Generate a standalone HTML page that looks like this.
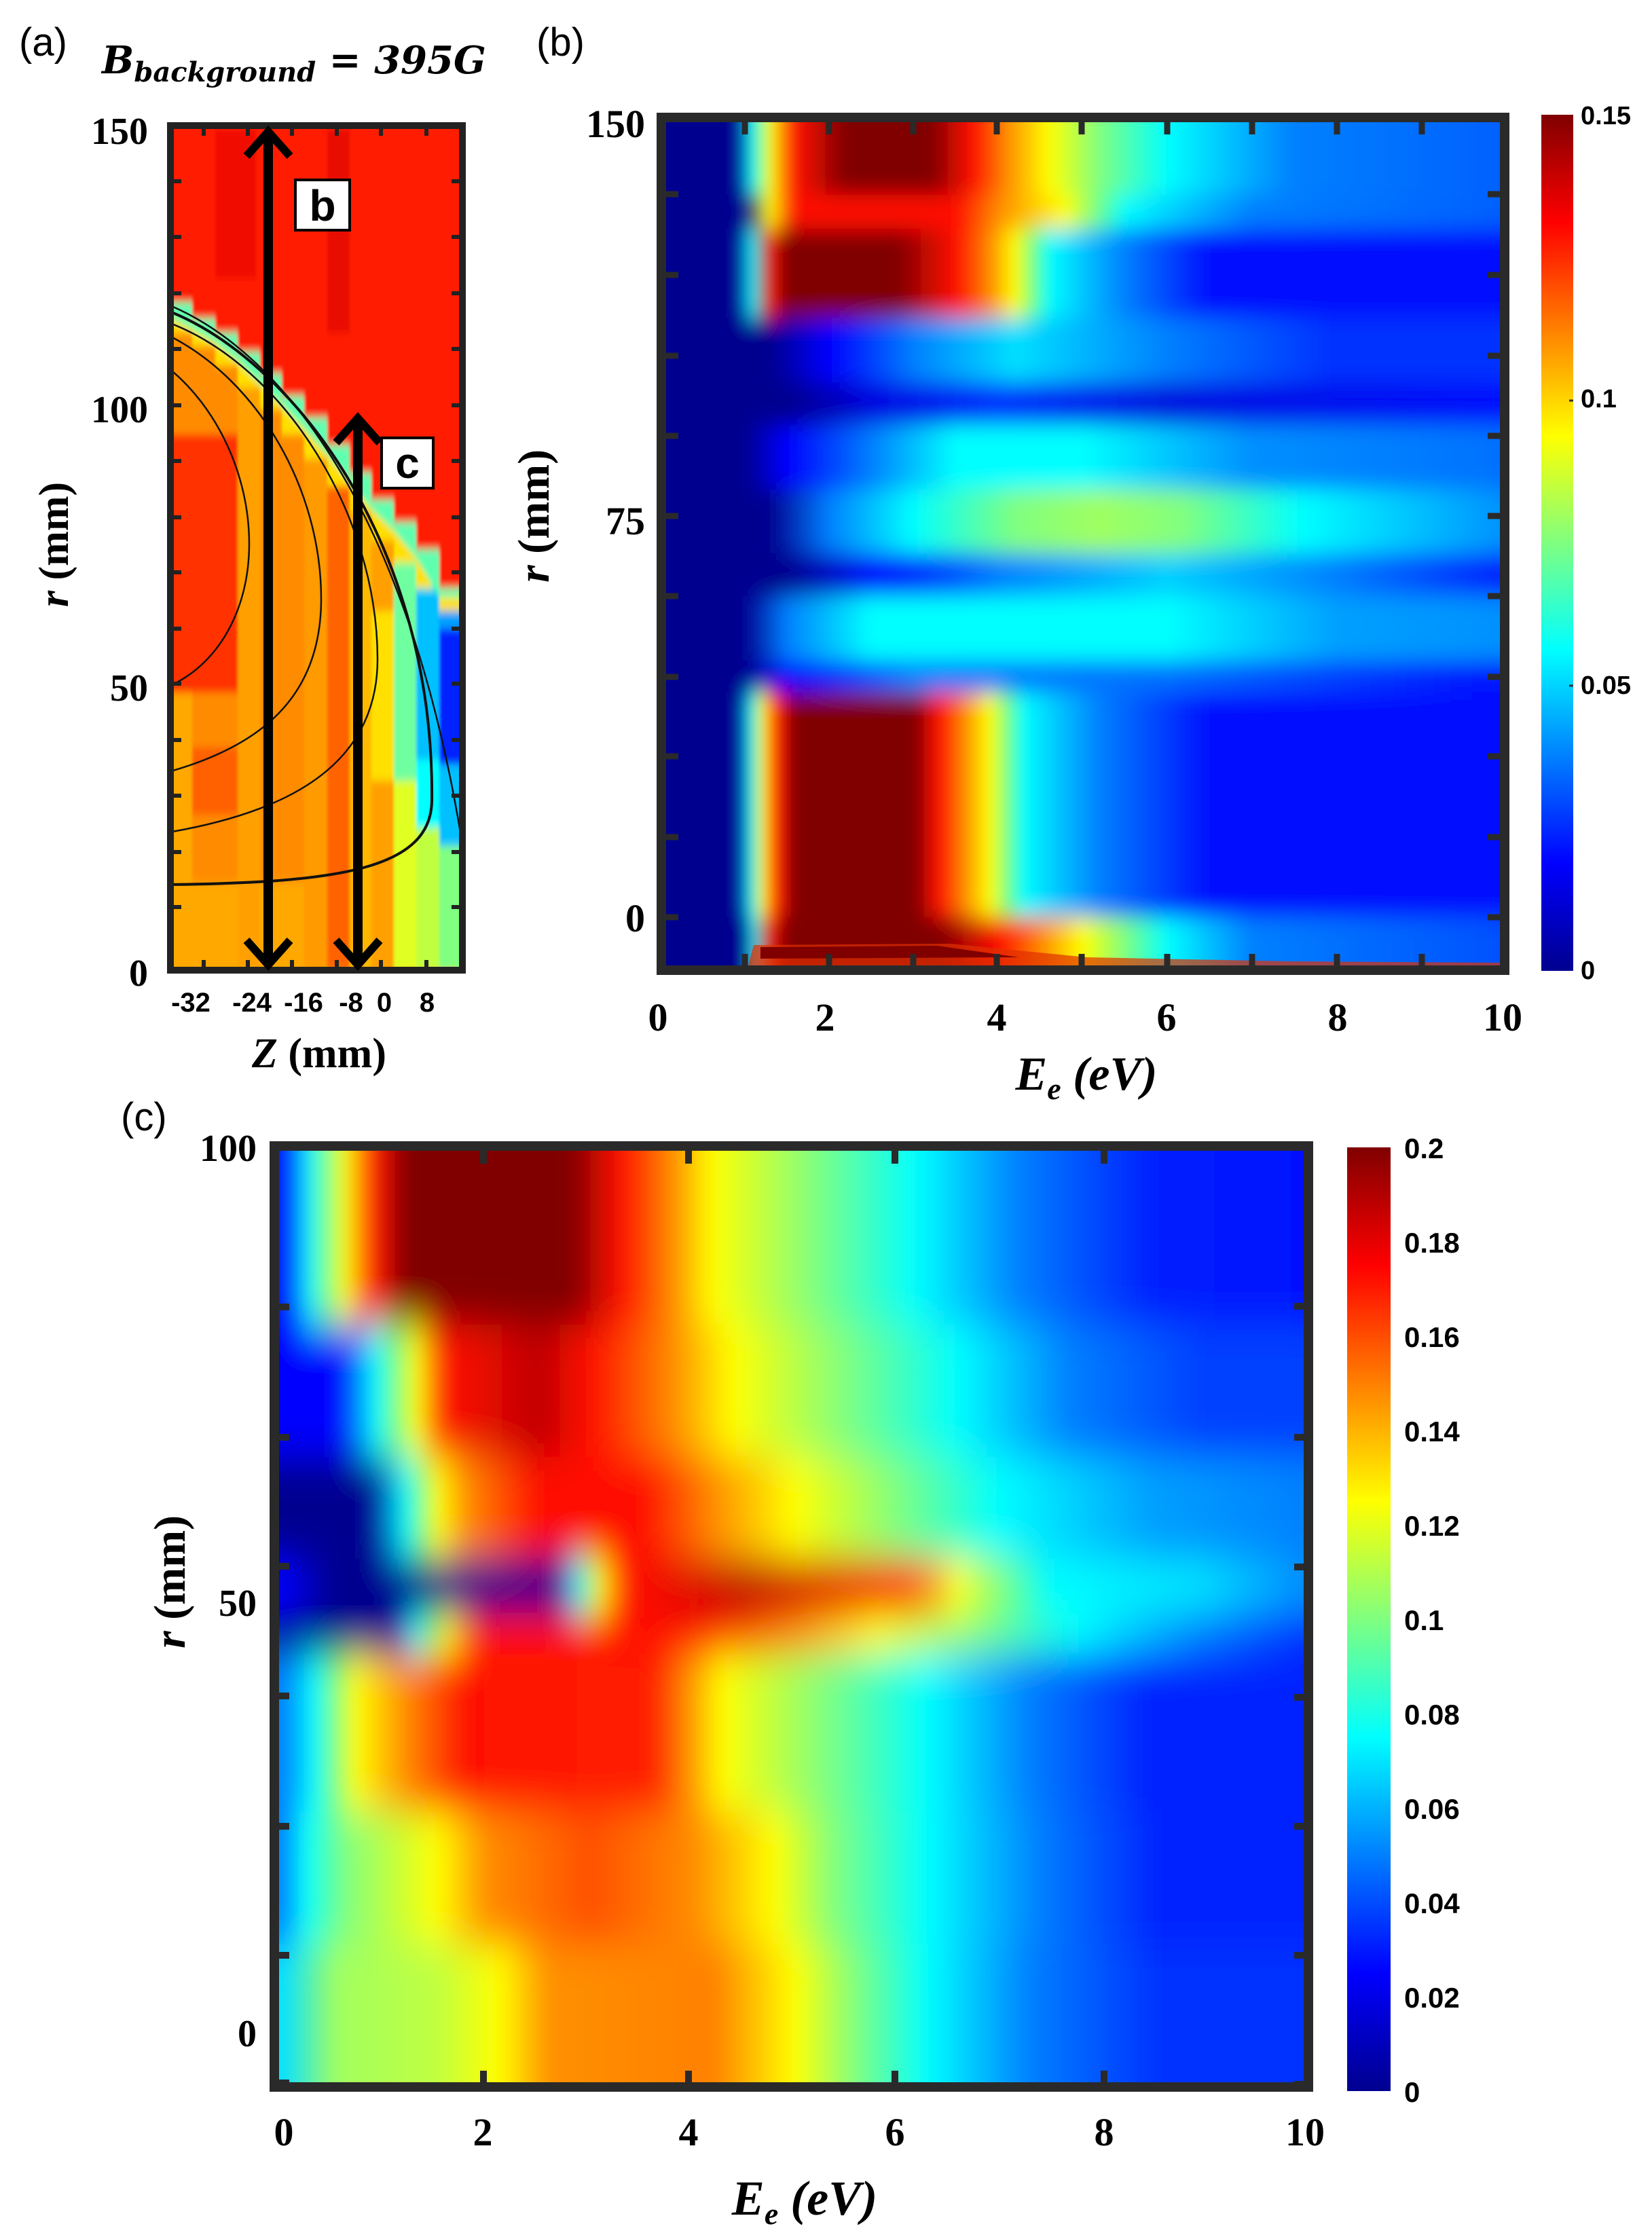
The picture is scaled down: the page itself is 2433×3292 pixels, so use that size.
<!DOCTYPE html>
<html><head><meta charset="utf-8"><style>html,body{margin:0;padding:0;background:#fff}svg{display:block}</style></head>
<body>
<svg xmlns="http://www.w3.org/2000/svg" width="2433" height="3292" viewBox="0 0 2433 3292">
<defs>
<filter id="fb" x="-5%" y="-5%" width="110%" height="110%"><feGaussianBlur stdDeviation="10 16"/></filter>
<filter id="fc" x="-5%" y="-5%" width="110%" height="110%"><feGaussianBlur stdDeviation="14 30"/></filter>
<filter id="fa" x="-5%" y="-5%" width="110%" height="110%"><feGaussianBlur stdDeviation="2 6"/></filter>
<clipPath id="cb"><rect x="977" y="176" width="1236" height="1250"/></clipPath>
<clipPath id="cc"><rect x="408" y="1692" width="1516" height="1380"/></clipPath>
<clipPath id="ca"><rect x="252" y="186" width="428" height="1242"/></clipPath>
<linearGradient id="jet" x1="0" y1="1" x2="0" y2="0">
<stop offset="0" stop-color="#00008f"/><stop offset=".125" stop-color="#0000ff"/><stop offset=".375" stop-color="#00ffff"/><stop offset=".625" stop-color="#ffff00"/><stop offset=".875" stop-color="#ff0000"/><stop offset="1" stop-color="#800000"/>
</linearGradient>
<linearGradient id="b1" gradientUnits="userSpaceOnUse" x1="972" y1="0" x2="2217" y2="0">
<stop offset=".0" stop-color="#00008f"/><stop offset=".09" stop-color="#00008f"/><stop offset=".11" stop-color="#00ffff"/><stop offset=".13" stop-color="#ffff00"/><stop offset=".16" stop-color="#ff1000"/><stop offset=".22" stop-color="#800000"/><stop offset=".32" stop-color="#800000"/><stop offset=".37" stop-color="#ff1000"/><stop offset=".41" stop-color="#ff8c00"/><stop offset=".46" stop-color="#ffff00"/><stop offset=".52" stop-color="#80ff80"/><stop offset=".6" stop-color="#00ffff"/><stop offset=".75" stop-color="#0080ff"/><stop offset="1" stop-color="#0060ff"/></linearGradient>
<linearGradient id="b2" gradientUnits="userSpaceOnUse" x1="972" y1="0" x2="2217" y2="0">
<stop offset="0" stop-color="#00008f"/><stop offset=".1" stop-color="#00008f"/><stop offset=".13" stop-color="#ffff00"/><stop offset=".16" stop-color="#ff1000"/><stop offset=".35" stop-color="#ff1000"/><stop offset=".4" stop-color="#ff8c00"/><stop offset=".48" stop-color="#ffff00"/><stop offset=".55" stop-color="#00ffff"/><stop offset=".7" stop-color="#0080ff"/><stop offset="1" stop-color="#0060ff"/></linearGradient>
<linearGradient id="b3" gradientUnits="userSpaceOnUse" x1="972" y1="0" x2="2217" y2="0">
<stop offset="0" stop-color="#00008f"/><stop offset=".09" stop-color="#00008f"/><stop offset=".11" stop-color="#00ffff"/><stop offset=".13" stop-color="#ff1000"/><stop offset=".15" stop-color="#800000"/><stop offset=".28" stop-color="#800000"/><stop offset=".35" stop-color="#ff1000"/><stop offset=".39" stop-color="#ff8c00"/><stop offset=".42" stop-color="#ffff00"/><stop offset=".46" stop-color="#00ffff"/><stop offset=".55" stop-color="#0080ff"/><stop offset=".65" stop-color="#0010ff"/><stop offset="1" stop-color="#0010ff"/></linearGradient>
<linearGradient id="b4" gradientUnits="userSpaceOnUse" x1="972" y1="0" x2="2217" y2="0">
<stop offset="0" stop-color="#00008f"/><stop offset=".13" stop-color="#00008f"/><stop offset=".2" stop-color="#0000ff"/><stop offset=".3" stop-color="#0080ff"/><stop offset=".42" stop-color="#00e0ff"/><stop offset=".6" stop-color="#0080ff"/><stop offset=".8" stop-color="#0030ff"/><stop offset="1" stop-color="#0030ff"/></linearGradient>
<linearGradient id="b5" gradientUnits="userSpaceOnUse" x1="972" y1="0" x2="2217" y2="0">
<stop offset="0" stop-color="#00008f"/><stop offset=".15" stop-color="#00008f"/><stop offset=".25" stop-color="#0000e0"/><stop offset=".4" stop-color="#0030ff"/><stop offset=".6" stop-color="#0010e0"/><stop offset="1" stop-color="#0010ff"/></linearGradient>
<linearGradient id="b6" gradientUnits="userSpaceOnUse" x1="972" y1="0" x2="2217" y2="0">
<stop offset="0" stop-color="#00008f"/><stop offset=".1" stop-color="#00008f"/><stop offset=".15" stop-color="#0000ff"/><stop offset=".25" stop-color="#0080ff"/><stop offset=".35" stop-color="#00ffff"/><stop offset=".5" stop-color="#00ffff"/><stop offset=".7" stop-color="#0090ff"/><stop offset="1" stop-color="#0070ff"/></linearGradient>
<linearGradient id="b7" gradientUnits="userSpaceOnUse" x1="972" y1="0" x2="2217" y2="0">
<stop offset="0" stop-color="#00008f"/><stop offset=".13" stop-color="#00008f"/><stop offset=".2" stop-color="#0080ff"/><stop offset=".3" stop-color="#00ffff"/><stop offset=".42" stop-color="#80ff80"/><stop offset=".52" stop-color="#a0ff60"/><stop offset=".62" stop-color="#80ff80"/><stop offset=".76" stop-color="#00ffff"/><stop offset="1" stop-color="#0090ff"/></linearGradient>
<linearGradient id="b8" gradientUnits="userSpaceOnUse" x1="972" y1="0" x2="2217" y2="0">
<stop offset="0" stop-color="#00008f"/><stop offset=".15" stop-color="#00008f"/><stop offset=".25" stop-color="#0000ff"/><stop offset=".4" stop-color="#0080ff"/><stop offset=".6" stop-color="#00d0ff"/><stop offset=".8" stop-color="#0080ff"/><stop offset="1" stop-color="#0020ff"/></linearGradient>
<linearGradient id="b9" gradientUnits="userSpaceOnUse" x1="972" y1="0" x2="2217" y2="0">
<stop offset="0" stop-color="#00008f"/><stop offset=".1" stop-color="#00008f"/><stop offset=".15" stop-color="#0080ff"/><stop offset=".25" stop-color="#00ffff"/><stop offset=".6" stop-color="#00ffff"/><stop offset=".8" stop-color="#00a0ff"/><stop offset="1" stop-color="#0090ff"/></linearGradient>
<linearGradient id="b10" gradientUnits="userSpaceOnUse" x1="972" y1="0" x2="2217" y2="0">
<stop offset="0" stop-color="#00008f"/><stop offset=".1" stop-color="#00008f"/><stop offset=".15" stop-color="#0000ff"/><stop offset=".3" stop-color="#0080ff"/><stop offset=".6" stop-color="#0070ff"/><stop offset="1" stop-color="#0010ff"/></linearGradient>
<linearGradient id="b11" gradientUnits="userSpaceOnUse" x1="972" y1="0" x2="2217" y2="0">
<stop offset="0" stop-color="#00008f"/><stop offset=".09" stop-color="#00008f"/><stop offset=".11" stop-color="#00ffff"/><stop offset=".12" stop-color="#ffff00"/><stop offset=".14" stop-color="#ff1000"/><stop offset=".16" stop-color="#800000"/><stop offset=".3" stop-color="#800000"/><stop offset=".33" stop-color="#ff1000"/><stop offset=".36" stop-color="#ff8c00"/><stop offset=".39" stop-color="#ffff00"/><stop offset=".43" stop-color="#00ffff"/><stop offset=".52" stop-color="#0080ff"/><stop offset=".65" stop-color="#0010ff"/><stop offset="1" stop-color="#0010ff"/></linearGradient>
<linearGradient id="b12" gradientUnits="userSpaceOnUse" x1="972" y1="0" x2="2217" y2="0">
<stop offset="0" stop-color="#00008f"/><stop offset=".1" stop-color="#00008f"/><stop offset=".11" stop-color="#00ffff"/><stop offset=".13" stop-color="#ff1000"/><stop offset=".15" stop-color="#800000"/><stop offset=".33" stop-color="#800000"/><stop offset=".4" stop-color="#ff1000"/><stop offset=".5" stop-color="#ffff00"/><stop offset=".6" stop-color="#00ffff"/><stop offset=".7" stop-color="#0080ff"/><stop offset="1" stop-color="#0050ff"/></linearGradient>
<linearGradient id="c1" gradientUnits="userSpaceOnUse" x1="418" y1="0" x2="1922" y2="0">
<stop offset="0" stop-color="#0000ff"/><stop offset=".025" stop-color="#00ffff"/><stop offset=".06" stop-color="#ffff00"/><stop offset=".09" stop-color="#ff1000"/><stop offset=".12" stop-color="#800000"/><stop offset=".28" stop-color="#800000"/><stop offset=".33" stop-color="#ff1000"/><stop offset=".38" stop-color="#ff8c00"/><stop offset=".42" stop-color="#ffff00"/><stop offset=".52" stop-color="#80ff80"/><stop offset=".62" stop-color="#00ffff"/><stop offset=".72" stop-color="#0080ff"/><stop offset=".85" stop-color="#0020ff"/><stop offset="1" stop-color="#0010ff"/></linearGradient>
<linearGradient id="c2" gradientUnits="userSpaceOnUse" x1="418" y1="0" x2="1922" y2="0">
<stop offset="0" stop-color="#0000ff"/><stop offset=".05" stop-color="#0000ff"/><stop offset=".09" stop-color="#00ffff"/><stop offset=".13" stop-color="#ffff00"/><stop offset=".16" stop-color="#ff1000"/><stop offset=".25" stop-color="#c00000"/><stop offset=".3" stop-color="#ff1000"/><stop offset=".38" stop-color="#ff8c00"/><stop offset=".44" stop-color="#ffff00"/><stop offset=".55" stop-color="#80ff80"/><stop offset=".66" stop-color="#00ffff"/><stop offset=".77" stop-color="#0080ff"/><stop offset=".9" stop-color="#0040ff"/><stop offset="1" stop-color="#0040ff"/></linearGradient>
<linearGradient id="c3" gradientUnits="userSpaceOnUse" x1="418" y1="0" x2="1922" y2="0">
<stop offset="0" stop-color="#00008f"/><stop offset=".08" stop-color="#00008f"/><stop offset=".12" stop-color="#00ffff"/><stop offset=".15" stop-color="#ffff00"/><stop offset=".18" stop-color="#ff8c00"/><stop offset=".25" stop-color="#ff1000"/><stop offset=".35" stop-color="#ff1000"/><stop offset=".42" stop-color="#ff8c00"/><stop offset=".5" stop-color="#ffff00"/><stop offset=".6" stop-color="#80ff80"/><stop offset=".7" stop-color="#00ffff"/><stop offset=".85" stop-color="#00a0ff"/><stop offset="1" stop-color="#0080ff"/></linearGradient>
<linearGradient id="c4" gradientUnits="userSpaceOnUse" x1="418" y1="0" x2="1922" y2="0">
<stop offset="0" stop-color="#0000ff"/><stop offset=".05" stop-color="#00008f"/><stop offset=".26" stop-color="#00008f"/><stop offset=".29" stop-color="#00ffff"/><stop offset=".31" stop-color="#ffff00"/><stop offset=".34" stop-color="#ff1000"/><stop offset=".45" stop-color="#c00000"/><stop offset=".6" stop-color="#ff1000"/><stop offset=".66" stop-color="#ffff00"/><stop offset=".75" stop-color="#00ffff"/><stop offset=".9" stop-color="#00e0ff"/><stop offset="1" stop-color="#0090ff"/></linearGradient>
<linearGradient id="c5" gradientUnits="userSpaceOnUse" x1="418" y1="0" x2="1922" y2="0">
<stop offset="0" stop-color="#00008f"/><stop offset=".1" stop-color="#00008f"/><stop offset=".13" stop-color="#00ffff"/><stop offset=".16" stop-color="#ffff00"/><stop offset=".2" stop-color="#ff1000"/><stop offset=".4" stop-color="#ff1000"/><stop offset=".5" stop-color="#ff8c00"/><stop offset=".58" stop-color="#ffff00"/><stop offset=".68" stop-color="#80ff80"/><stop offset=".78" stop-color="#00ffff"/><stop offset=".9" stop-color="#0080ff"/><stop offset="1" stop-color="#0030ff"/></linearGradient>
<linearGradient id="c6" gradientUnits="userSpaceOnUse" x1="418" y1="0" x2="1922" y2="0">
<stop offset="0" stop-color="#0080ff"/><stop offset=".03" stop-color="#00ffff"/><stop offset=".07" stop-color="#ffff00"/><stop offset=".12" stop-color="#ff8c00"/><stop offset=".18" stop-color="#ff1000"/><stop offset=".36" stop-color="#ff2000"/><stop offset=".43" stop-color="#ffff00"/><stop offset=".53" stop-color="#80ff80"/><stop offset=".63" stop-color="#00ffff"/><stop offset=".73" stop-color="#0080ff"/><stop offset=".85" stop-color="#0020ff"/><stop offset="1" stop-color="#0020ff"/></linearGradient>
<linearGradient id="c7" gradientUnits="userSpaceOnUse" x1="418" y1="0" x2="1922" y2="0">
<stop offset="0" stop-color="#0080ff"/><stop offset=".02" stop-color="#00ffff"/><stop offset=".06" stop-color="#80ff80"/><stop offset=".15" stop-color="#ffff00"/><stop offset=".2" stop-color="#ff8c00"/><stop offset=".3" stop-color="#ff5000"/><stop offset=".4" stop-color="#ff8c00"/><stop offset=".48" stop-color="#ffff00"/><stop offset=".54" stop-color="#80ff80"/><stop offset=".63" stop-color="#00ffff"/><stop offset=".74" stop-color="#0080ff"/><stop offset=".86" stop-color="#0020ff"/><stop offset="1" stop-color="#0020ff"/></linearGradient>
<linearGradient id="c8" gradientUnits="userSpaceOnUse" x1="418" y1="0" x2="1922" y2="0">
<stop offset="0" stop-color="#00e0ff"/><stop offset=".05" stop-color="#a0ff60"/><stop offset=".15" stop-color="#c0ff40"/><stop offset=".21" stop-color="#ffff00"/><stop offset=".26" stop-color="#ff9000"/><stop offset=".42" stop-color="#ff8000"/><stop offset=".5" stop-color="#ffff00"/><stop offset=".56" stop-color="#80ff80"/><stop offset=".63" stop-color="#00ffff"/><stop offset=".73" stop-color="#0080ff"/><stop offset=".86" stop-color="#0030ff"/><stop offset="1" stop-color="#0030ff"/></linearGradient>
</defs>

<!-- ===== Panel (a) ===== -->
<g clip-path="url(#ca)">
<g filter="url(#fa)">
<rect x="240" y="170" width="450" height="1270" fill="#ff8c00"/>
<rect x="240" y="640" width="110" height="380" fill="#ff3000"/>
<rect x="240" y="1020" width="43" height="410" fill="#ffa800"/>
<rect x="283" y="1100" width="67" height="100" fill="#ff6000"/>
<rect x="240" y="1300" width="440" height="140" fill="#ffa800"/>
<rect x="350" y="550" width="33" height="880" fill="#ffa000"/>
<rect x="448" y="640" width="34" height="790" fill="#ff9a00"/>
<rect x="482" y="700" width="33" height="730" fill="#ff6400"/>
<rect x="515" y="760" width="32" height="670" fill="#ffb800"/>
<rect x="547" y="740" width="33" height="690" fill="#ffa000"/>
<rect x="547" y="900" width="33" height="250" fill="#ffe000"/>
<rect x="580" y="800" width="33" height="350" fill="#70ffa0"/>
<rect x="580" y="1150" width="33" height="280" fill="#e0ff20"/>
<rect x="613" y="840" width="34" height="30" fill="#40ffc0"/>
<rect x="613" y="869" width="34" height="250" fill="#00c0ff"/>
<rect x="613" y="1119" width="34" height="100" fill="#00ffff"/>
<rect x="613" y="1219" width="34" height="211" fill="#c0ff40"/>
<rect x="647" y="890" width="40" height="36" fill="#00a0ff"/>
<rect x="647" y="926" width="40" height="200" fill="#0020ff"/>
<rect x="647" y="1126" width="40" height="120" fill="#00c0ff"/>
<rect x="647" y="1246" width="40" height="184" fill="#80ff80"/>
<!-- thin transition band under red steps -->
<polygon points="240,440 283,440 283,464 317,464 317,485 350,485 350,513 383,513 383,545 415,545 415,578 448,578 448,610 482,610 482,650 515,650 515,691 547,691 547,731 580,731 580,764 613,764 613,804 647,804 647,861 690,861 690,900 647,900 647,866 613,866 613,829 580,829 580,796 547,796 547,756 515,756 515,716 482,716 482,676 448,676 448,640 415,640 415,603 383,603 383,570 350,570 350,538 317,538 317,510 283,510 283,490 240,490" fill="#ffe000"/>
<polygon points="240,440 283,440 283,464 317,464 317,485 350,485 350,513 383,513 383,545 415,545 415,578 448,578 448,610 482,610 482,650 515,650 515,691 547,691 547,731 580,731 580,764 613,764 613,804 647,804 647,861 690,861 690,880 647,880 613,822 580,782 547,750 515,710 482,670 448,632 415,597 383,565 350,532 317,505 283,485 240,462" fill="#60ffb0"/>
<polygon points="240,170 690,170 690,866 647,866 647,809 613,809 613,769 580,769 580,736 547,736 547,696 515,696 515,655 482,655 482,615 448,615 448,583 415,583 415,550 383,550 383,518 350,518 350,490 317,490 317,469 283,469 283,445 240,445" fill="#ff1e00"/>
<rect x="317" y="190" width="60" height="220" fill="#f01000"/>
<rect x="482" y="190" width="33" height="300" fill="#e81000"/>
</g>
<g fill="none" stroke="#111" stroke-width="2.5">
<path d="M248,449 C420,520 600,760 678,1226"/>
<path d="M248,458 C430,530 640,800 636,1180 C634,1280 500,1300 248,1303" stroke-width="4"/>
<path d="M248,475 C420,540 556,760 556,971 C556,1140 400,1200 248,1226"/>
<path d="M248,494 C380,560 473,720 473,882 C473,1030 380,1100 248,1137"/>
<path d="M248,542 C320,600 367,700 367,801 C367,900 320,980 248,1011"/>
</g>
</g>
<g stroke="#222" stroke-width="6">
<path d="M252,267h15M252,349h15M252,432h15M252,514h15M252,597h15M252,679h15M252,762h15M252,843h15M252,926h15M252,1007h15M252,1090h15M252,1172h15M252,1255h15M252,1336h15"/>
<path d="M680,267h-15M680,349h-15M680,432h-15M680,514h-15M680,597h-15M680,679h-15M680,762h-15M680,843h-15M680,926h-15M680,1007h-15M680,1090h-15M680,1172h-15M680,1255h-15M680,1336h-15"/>
<path d="M300,186v14M365,186v14M430,186v14M496,186v14M561,186v14M628,186v14"/>
<path d="M300,1428v-14M365,1428v-14M430,1428v-14M496,1428v-14M561,1428v-14M628,1428v-14"/>
</g>
<rect x="251" y="185" width="430" height="1244" fill="none" stroke="#222" stroke-width="10"/>
<g stroke="#000" stroke-width="14" fill="none">
<line x1="395" y1="196" x2="395" y2="1418"/>
<polyline points="363,230 395,194 427,230" stroke-width="12"/>
<polyline points="363,1385 395,1421 427,1385" stroke-width="12"/>
<line x1="527" y1="616" x2="527" y2="1418"/>
<polyline points="495,652 527,616 559,652" stroke-width="12"/>
<polyline points="495,1385 527,1421 559,1385" stroke-width="12"/>
</g>
<rect x="435" y="265" width="80" height="74" fill="#fff" stroke="#000" stroke-width="4"/>
<text x="475" y="325" font-family="Liberation Sans, sans-serif" font-size="64" text-anchor="middle" font-weight="bold">b</text>
<rect x="562" y="645" width="76" height="74" fill="#fff" stroke="#000" stroke-width="4"/>
<text x="600" y="704" font-family="Liberation Sans, sans-serif" font-size="64" text-anchor="middle" font-weight="bold">c</text>

<g font-family="Liberation Serif, serif" font-weight="bold" font-size="56" text-anchor="end">
<text x="218" y="212">150</text><text x="218" y="622">100</text><text x="218" y="1032">50</text><text x="218" y="1452">0</text>
</g>
<g font-family="Liberation Sans, sans-serif" font-weight="bold" font-size="40" text-anchor="middle">
<text x="281" y="1490">-32</text><text x="371" y="1490">-24</text><text x="447" y="1490">-16</text><text x="517" y="1490">-8</text><text x="566" y="1490">0</text><text x="629" y="1490">8</text>
</g>
<text x="470" y="1572" font-family="Liberation Serif, serif" font-weight="bold" font-size="62" text-anchor="middle"><tspan font-style="italic">Z</tspan> (mm)</text>
<text transform="translate(100,802) rotate(-90)" font-family="Liberation Serif, serif" font-weight="bold" font-size="62" text-anchor="middle"><tspan font-style="italic">r</tspan> (mm)</text>
<text x="28" y="82" font-family="Liberation Sans, sans-serif" font-size="58">(a)</text>
<text x="150" y="108" font-family="DejaVu Serif, serif" font-style="italic" font-weight="bold" font-size="56">B<tspan font-size="40" dy="12">background</tspan><tspan dy="-12" font-style="normal"> = </tspan>395G</text>
<text x="790" y="82" font-family="Liberation Sans, sans-serif" font-size="58">(b)</text>

<!-- ===== Panel (b) ===== -->
<g clip-path="url(#cb)">
<g filter="url(#fb)">
<rect x="940" y="60" width="1300" height="227" fill="url(#b1)"/>
<rect x="940" y="287" width="1300" height="50" fill="url(#b2)"/>
<rect x="940" y="337" width="1300" height="131" fill="url(#b3)"/>
<rect x="940" y="468" width="1300" height="95" fill="url(#b4)"/>
<rect x="940" y="563" width="1300" height="63" fill="url(#b5)"/>
<rect x="940" y="626" width="1300" height="95" fill="url(#b6)"/>
<rect x="940" y="721" width="1300" height="94" fill="url(#b7)"/>
<rect x="940" y="815" width="1300" height="63" fill="url(#b8)"/>
<rect x="940" y="878" width="1300" height="95" fill="url(#b9)"/>
<rect x="940" y="973" width="1300" height="47" fill="url(#b10)"/>
<rect x="940" y="1020" width="1300" height="331" fill="url(#b11)"/>
<rect x="940" y="1351" width="1300" height="150" fill="url(#b12)"/>
</g>
<polygon points="1110,1392 1400,1390 1600,1410 1900,1416 2213,1418 2213,1430 1100,1430" fill="#e03000" opacity=".7"/>
<polygon points="1120,1395 1380,1393 1500,1410 1120,1412" fill="#800000"/>
</g>
<g stroke="#2a2a2a" stroke-width="9">
<path d="M1097,176v22M1221,176v22M1345,176v22M1468,176v22M1593,176v22M1719,176v22M1844,176v22M1969,176v22M2094,176v22"/>
<path d="M1097,1427v-22M1221,1427v-22M1345,1427v-22M1468,1427v-22M1593,1427v-22M1719,1427v-22M1844,1427v-22M1969,1427v-22M2094,1427v-22"/>
<path d="M977,286h22M977,405h22M977,524h22M977,642h22M977,760h22M977,878h22M977,997h22M977,1114h22M977,1233h22M977,1351h22"/>
<path d="M2213,286h-22M2213,405h-22M2213,524h-22M2213,642h-22M2213,760h-22M2213,878h-22M2213,997h-22M2213,1114h-22M2213,1233h-22M2213,1351h-22"/>
</g>
<rect x="974" y="173" width="1242" height="1256" fill="none" stroke="#2a2a2a" stroke-width="14"/>
<g font-family="Liberation Serif, serif" font-weight="bold" font-size="58" text-anchor="end">
<text x="950" y="202">150</text><text x="950" y="787">75</text><text x="950" y="1372">0</text>
</g>
<g font-family="Liberation Serif, serif" font-weight="bold" font-size="58" text-anchor="middle">
<text x="969" y="1518">0</text><text x="1215" y="1518">2</text><text x="1468" y="1518">4</text><text x="1718" y="1518">6</text><text x="1970" y="1518">8</text><text x="2213" y="1518">10</text>
</g>
<text x="1600" y="1605" font-family="Liberation Serif, serif" font-weight="bold" font-style="italic" font-size="70" text-anchor="middle">E<tspan font-size="46" dy="14">e</tspan><tspan dy="-14">  (eV)</tspan></text>
<text transform="translate(808,760) rotate(-90)" font-family="Liberation Serif, serif" font-weight="bold" font-size="66" text-anchor="middle"><tspan font-style="italic">r</tspan> (mm)</text>
<rect x="2270" y="169" width="47" height="1261" fill="url(#jet)"/>
<g stroke="#333" stroke-width="3"><path d="M2317,590h-6M2317,1010h-6"/></g>
<g font-family="Liberation Sans, sans-serif" font-weight="bold" font-size="38">
<text x="2328" y="183">0.15</text><text x="2328" y="600">0.1</text><text x="2328" y="1022">0.05</text><text x="2328" y="1442">0</text>
</g>

<!-- ===== Panel (c) ===== -->
<g clip-path="url(#cc)">
<g filter="url(#fc)">
<rect x="370" y="1560" width="1600" height="391" fill="url(#c1)"/>
<rect x="370" y="1951" width="1600" height="195" fill="url(#c2)"/>
<rect x="370" y="2146" width="1600" height="150" fill="url(#c3)"/>
<rect x="370" y="2296" width="1600" height="80" fill="url(#c4)"/>
<rect x="370" y="2376" width="1600" height="60" fill="url(#c5)"/>
<rect x="370" y="2436" width="1600" height="232" fill="url(#c6)"/>
<rect x="370" y="2668" width="1600" height="196" fill="url(#c7)"/>
<rect x="370" y="2864" width="1600" height="300" fill="url(#c8)"/>
</g>
</g>
<g stroke="#2a2a2a" stroke-width="10">
<path d="M712,1692v22M1014,1692v22M1318,1692v22M1626,1692v22"/>
<path d="M712,3072v-22M1014,3072v-22M1318,3072v-22M1626,3072v-22"/>
<path d="M408,1925h18M408,2117h18M408,2307h18M408,2498h18M408,2690h18M408,2880h18M408,3068h18"/>
<path d="M1924,1924h-18M1924,2117h-18M1924,2308h-18M1924,2500h-18M1924,2690h-18M1924,2880h-18M1924,3070h-18"/>
</g>
<rect x="404" y="1688" width="1523" height="1386" fill="none" stroke="#2a2a2a" stroke-width="14"/>
<g font-family="Liberation Serif, serif" font-weight="bold" font-size="56" text-anchor="end">
<text x="378" y="1710">100</text><text x="378" y="2380">50</text><text x="378" y="3014">0</text>
</g>
<g font-family="Liberation Serif, serif" font-weight="bold" font-size="58" text-anchor="middle">
<text x="418" y="3160">0</text><text x="711" y="3160">2</text><text x="1014" y="3160">4</text><text x="1318" y="3160">6</text><text x="1626" y="3160">8</text><text x="1922" y="3160">10</text>
</g>
<text x="1185" y="3262" font-family="Liberation Serif, serif" font-weight="bold" font-style="italic" font-size="72" text-anchor="middle">E<tspan font-size="46" dy="14">e</tspan><tspan dy="-14">  (eV)</tspan></text>
<text transform="translate(272,2330) rotate(-90)" font-family="Liberation Serif, serif" font-weight="bold" font-size="66" text-anchor="middle"><tspan font-style="italic">r</tspan> (mm)</text>
<text x="178" y="1665" font-family="Liberation Sans, sans-serif" font-size="58">(c)</text>
<rect x="1984" y="1690" width="64" height="1390" fill="url(#jet)"/>
<g font-family="Liberation Sans, sans-serif" font-weight="bold" font-size="42">
<text x="2068" y="1706">0.2</text><text x="2068" y="1845">0.18</text><text x="2068" y="1984">0.16</text><text x="2068" y="2123">0.14</text><text x="2068" y="2262">0.12</text><text x="2068" y="2401">0.1</text><text x="2068" y="2540">0.08</text><text x="2068" y="2679">0.06</text><text x="2068" y="2818">0.04</text><text x="2068" y="2957">0.02</text><text x="2068" y="3096">0</text>
</g>
</svg>
</body></html>
